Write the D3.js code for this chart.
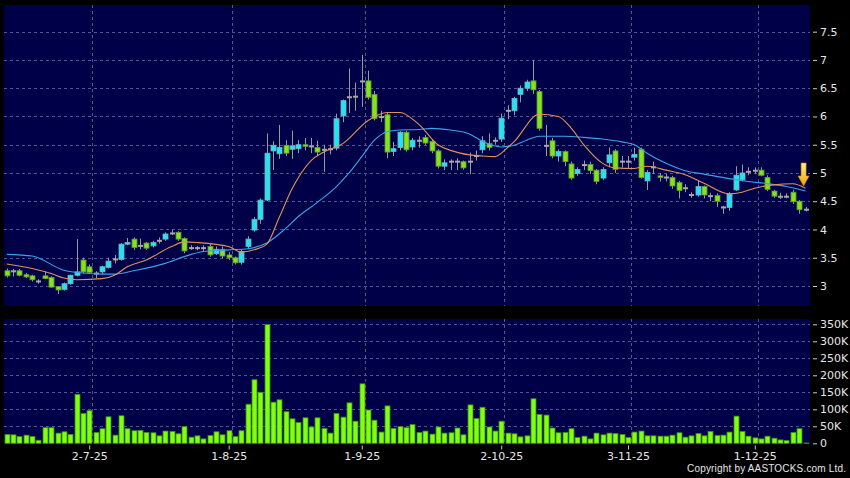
<!DOCTYPE html>
<html>
<head>
<meta charset="utf-8">
<script src="https://cdn.jsdelivr.net/npm/d3@7"></script>
<style>
  body { margin: 0; background: #000; }
  svg { display: block; font-family: "DejaVu Sans", sans-serif; }
</style>
</head>
<body>
<div id="chart"></div>
<script>
// daily candles, one entry per trading day (index 0 .. 126)
const open = [3.27,3.26,3.27,3.20,3.18,3.08,3.18,3.15,2.99,2.94,3.04,3.19,3.46,3.34,3.22,3.25,3.33,3.47,3.47,3.74,
  3.83,3.71,3.76,3.71,3.80,3.83,3.93,3.95,3.84,3.67,3.67,3.67,3.70,3.57,3.65,3.55,3.50,3.42,3.70,3.99,
  4.18,4.52,5.39,5.34,5.49,5.42,5.43,5.50,5.47,5.45,5.41,5.42,5.44,6.01,6.34,6.35,6.62,6.63,6.39,5.99,
  6.03,5.38,5.45,5.72,5.46,5.57,5.63,5.56,5.39,5.12,5.20,5.20,5.20,5.20,5.30,5.41,5.52,5.57,5.60,6.10,
  6.10,6.39,6.50,6.63,6.44,5.48,5.57,5.30,5.38,5.16,4.99,5.14,5.15,5.05,4.91,5.18,5.39,5.20,5.20,5.28,
  5.42,4.86,5.10,4.95,4.92,4.92,4.83,4.73,4.61,4.61,4.76,4.59,4.60,4.39,4.39,4.70,4.88,5.02,5.04,5.05,
  4.92,4.68,4.58,4.58,4.66,4.50,4.35];
const high = [3.31,3.30,3.30,3.23,3.20,3.12,3.25,3.17,3.00,3.06,3.20,3.83,3.50,3.38,3.26,3.36,3.50,3.55,3.76,3.85,
  3.86,3.84,3.78,3.80,3.86,3.95,4.00,3.97,3.86,3.72,3.71,3.72,3.74,3.70,3.70,3.60,3.52,3.64,3.88,4.22,
  4.55,5.70,5.56,5.85,5.58,5.75,5.58,5.62,5.62,5.57,5.50,5.50,6.05,6.30,6.85,6.60,7.09,6.81,6.45,6.10,
  6.06,5.55,5.74,5.75,5.62,5.65,5.67,5.60,5.42,5.24,5.24,5.26,5.22,5.36,5.40,5.65,5.70,5.63,6.05,6.20,
  6.35,6.55,6.65,7.00,6.47,5.85,5.62,5.42,5.40,5.20,5.10,5.22,5.20,5.07,5.10,5.45,5.42,5.30,5.30,5.45,
  5.45,5.05,5.20,5.00,4.98,4.95,4.86,4.80,4.66,4.86,4.78,4.65,4.64,4.42,4.66,5.12,5.15,5.10,5.10,5.10,
  4.96,4.70,4.65,4.64,4.70,4.52,4.40];
const low = [3.15,3.17,3.17,3.14,3.08,3.04,3.12,2.97,2.86,2.92,3.02,3.17,3.22,3.22,3.14,3.20,3.31,3.40,3.45,3.72,
  3.64,3.65,3.64,3.68,3.75,3.80,3.90,3.80,3.58,3.64,3.63,3.62,3.52,3.55,3.49,3.46,3.38,3.38,3.66,3.96,
  4.10,4.50,5.05,5.25,5.30,5.25,5.35,5.40,5.35,5.30,5.02,5.33,5.40,5.90,6.06,6.10,6.17,6.30,5.93,5.90,
  5.26,5.30,5.40,5.38,5.40,5.45,5.50,5.35,5.08,5.05,5.05,5.05,5.06,4.98,5.22,5.35,5.40,5.50,5.55,5.95,
  6.02,6.25,6.45,6.40,5.75,5.30,5.26,5.20,5.12,4.88,4.95,5.05,4.98,4.80,4.88,5.10,5.00,5.10,5.08,5.22,
  4.90,4.70,4.98,4.85,4.85,4.72,4.55,4.66,4.56,4.58,4.55,4.50,4.40,4.28,4.33,4.68,4.85,4.96,4.98,4.94,
  4.68,4.56,4.54,4.55,4.45,4.28,4.32];
const close = [3.18,3.26,3.19,3.16,3.11,3.08,3.13,2.98,2.93,3.04,3.19,3.25,3.25,3.24,3.22,3.34,3.44,3.47,3.74,3.77,
  3.68,3.71,3.67,3.77,3.80,3.92,3.93,3.83,3.62,3.67,3.67,3.67,3.55,3.65,3.53,3.50,3.41,3.61,3.83,4.18,
  4.52,5.35,5.49,5.45,5.35,5.48,5.50,5.47,5.47,5.37,5.41,5.42,5.96,6.28,6.34,6.35,6.62,6.34,5.96,5.99,
  5.37,5.43,5.72,5.41,5.58,5.57,5.53,5.39,5.12,5.18,5.20,5.20,5.09,5.20,5.30,5.57,5.45,5.57,5.97,6.10,
  6.32,6.50,6.61,6.47,5.79,5.48,5.30,5.38,5.20,4.91,5.06,5.14,5.04,4.85,5.06,5.32,5.06,5.20,5.20,5.33,
  4.92,5.01,5.10,4.92,4.92,4.77,4.69,4.73,4.61,4.76,4.61,4.59,4.50,4.39,4.63,4.96,5.00,5.02,5.04,4.96,
  4.71,4.59,4.58,4.58,4.49,4.35,4.35];
// volume in thousands of shares
const volume = [26,25,20,24,20,9,46,46,30,34,26,144,88,96,32,43,78,24,81,43,
  37,38,32,31,22,36,35,28,49,18,22,13,23,34,25,37,20,37,115,187,
  150,349,121,128,93,72,61,75,48,75,44,30,88,77,119,65,175,98,68,33,
  110,44,49,46,55,32,36,27,48,30,31,45,25,113,73,106,48,36,65,30,
  28,19,22,131,85,83,45,31,32,43,17,21,13,30,25,30,29,26,17,33,
  36,22,22,21,21,24,31,18,22,29,22,35,23,24,33,80,35,21,16,13,
  21,15,10,8,32,43,1];

// moving averages (bar index, value)
const maFastIdx = [0,4,7,9,11,15,17,19,22,26,28,30,35,37,39,41,43,45,48,50,53,57,60,62,65,68,70,73,75,77,79,80,84,87,89,91,94,96,99,101,104,107,110,114,116,118,121,124,126];
const maFast = [3.39,3.31,3.22,3.14,3.11,3.13,3.19,3.34,3.46,3.70,3.78,3.77,3.70,3.60,3.64,3.74,4.22,4.72,5.22,5.37,5.52,5.93,6.07,6.07,5.86,5.50,5.40,5.32,5.30,5.29,5.45,5.55,6.04,6.00,5.80,5.50,5.17,5.09,5.08,5.12,5.05,4.97,4.82,4.63,4.66,4.73,4.79,4.81,4.73];
const maSlowIdx = [0,4,9,12,15,17,20,25,28,31,35,38,41,44,46,49,52,54,56,58,60,62,65,67,70,73,75,78,80,82,84,88,91,94,97,99,101,104,107,110,114,117,120,123,126];
const maSlow = [3.56,3.53,3.28,3.23,3.21,3.21,3.27,3.40,3.52,3.61,3.64,3.66,3.76,4.02,4.23,4.48,4.76,5.00,5.29,5.58,5.73,5.76,5.77,5.79,5.76,5.69,5.56,5.46,5.49,5.58,5.65,5.65,5.63,5.60,5.55,5.50,5.35,5.17,5.04,4.98,4.90,4.85,4.81,4.76,4.68];

// axis ticks
const priceTicks = [3,3.5,4,4.5,5,5.5,6,6.5,7,7.5];
const volTicks = [0,50,100,150,200,250,300,350];
const dateTickIdx = [14,36,57,79,99,119];
const dateLabels = ["2-7-25","1-8-25","1-9-25","2-10-25","3-11-25","1-12-25"];

// set the dimensions of the panes
const width = 850, height = 478;
const plotLeft = 4, plotRight = 810;
const pricePane = {top: 5, bottom: 306},
    volPane = {top: 319, bottom: 443.5};

const svg = d3.select("#chart")
  .append("svg")
    .attr("width", width)
    .attr("height", height);

svg.append("rect").attr("width", width).attr("height", height).attr("fill", "#000");

[pricePane, volPane].forEach(p => {
  svg.append("rect")
    .attr("x", plotLeft).attr("y", p.top)
    .attr("width", plotRight - plotLeft).attr("height", p.bottom - p.top)
    .attr("fill", "#000048");
});

// scales
const x = d3.scaleLinear().domain([0, 126]).range([6.8, 805.5]);
const step = x(1) - x(0);
const y = d3.scaleLinear().domain([3, 7.5]).range([286, 31.7]);
const yVol = d3.scaleLinear().domain([0, 350]).range([443.3, 324.3]);

const gridColor = "#54548e";

// horizontal grid
svg.append("g").selectAll("line")
  .data(priceTicks)
  .join("line")
    .attr("x1", plotLeft).attr("x2", plotRight)
    .attr("y1", d => Math.round(y(d)) + 0.5).attr("y2", d => Math.round(y(d)) + 0.5)
    .attr("stroke", gridColor).attr("stroke-dasharray", "3,3");

svg.append("g").selectAll("line")
  .data(volTicks.filter(d => d > 0))
  .join("line")
    .attr("x1", plotLeft).attr("x2", plotRight)
    .attr("y1", d => Math.round(yVol(d)) + 0.5).attr("y2", d => Math.round(yVol(d)) + 0.5)
    .attr("stroke", gridColor).attr("stroke-dasharray", "3,3");

// vertical grid, between bars at month starts
[pricePane, volPane].forEach(p => {
  svg.append("g").selectAll("line")
    .data(dateTickIdx)
    .join("line")
      .attr("x1", d => Math.round(x(d) - step / 2) + 0.5)
      .attr("x2", d => Math.round(x(d) - step / 2) + 0.5)
      .attr("y1", p.top).attr("y2", p.bottom)
      .attr("stroke", gridColor).attr("stroke-dasharray", "3,3");
});

// candles
const idx = d3.range(open.length);
const candles = svg.append("g");

candles.selectAll("line")
  .data(idx)
  .join("line")
    .attr("x1", i => Math.round(x(i)) + 0.5)
    .attr("x2", i => Math.round(x(i)) + 0.5)
    .attr("y1", i => y(high[i]))
    .attr("y2", i => y(low[i]))
    .attr("stroke", "#9a9a9a");

candles.selectAll("rect")
  .data(idx)
  .join("rect")
    .attr("x", i => Math.round(x(i)) - 2)
    .attr("width", 5)
    .attr("y", i => open[i] === close[i] ? y(close[i]) - 1 : y(Math.max(open[i], close[i])))
    .attr("height", i => open[i] === close[i] ? 2 : Math.max(1.5, Math.abs(y(open[i]) - y(close[i]))))
    .attr("fill", i => close[i] > open[i] ? "#26e2f0" : close[i] < open[i] ? "#84e21e" : "#a8a8a8")
    .attr("stroke", i => close[i] > open[i] ? "#78b4c0" : close[i] < open[i] ? "#5c9a30" : "none")
    .attr("stroke-width", 0.8);

// moving average lines
const line = d3.line().curve(d3.curveMonotoneX);

svg.append("path")
  .attr("d", line(maSlowIdx.map((d, k) => [x(d), y(maSlow[k])])))
  .attr("fill", "none")
  .attr("stroke", "#3aa2ea")
  .attr("stroke-width", 1.1);

svg.append("path")
  .attr("d", line(maFastIdx.map((d, k) => [x(d), y(maFast[k])])))
  .attr("fill", "none")
  .attr("stroke", "#e0925a")
  .attr("stroke-width", 1.1);

// volume bars
svg.append("g").selectAll("rect")
  .data(idx)
  .join("rect")
    .attr("x", i => Math.round(x(i)) - 2)
    .attr("width", 5)
    .attr("y", i => yVol(volume[i]))
    .attr("height", i => yVol(0) - yVol(volume[i]))
    .attr("fill", "#80ff10")
    .attr("stroke", "#3c8a14")
    .attr("stroke-width", 0.8);

// down arrow marker on the latest bar
const arrowAt = {index: 125.7, price: 4.77};
const defs = svg.append("defs");
const grad = defs.append("linearGradient").attr("id", "arrowGrad")
  .attr("x1", 0).attr("y1", 0).attr("x2", 0).attr("y2", 1);
grad.append("stop").attr("offset", "0%").attr("stop-color", "#fff38a");
grad.append("stop").attr("offset", "100%").attr("stop-color", "#f2a200");

const ax = x(arrowAt.index), ay = y(arrowAt.price);
svg.append("path")
  .attr("d", `M${ax - 2.5},${ay - 23} L${ax + 2.5},${ay - 23} L${ax + 2.5},${ay - 10} L${ax + 5.5},${ay - 10} L${ax},${ay} L${ax - 5.5},${ay - 10} L${ax - 2.5},${ay - 10} Z`)
  .attr("fill", "url(#arrowGrad)")
  .attr("stroke", "#c98a00")
  .attr("stroke-width", 0.6);

// right axes
function styleAxis(g) {
  g.select(".domain").remove();
  g.selectAll("line").attr("stroke", "#c8c8c8");
  g.selectAll("text").attr("fill", "#e6e6e6").attr("font-size", "11px")
    .attr("font-family", "DejaVu Sans, sans-serif");
}

svg.append("g")
  .attr("transform", `translate(${plotRight + 3},0)`)
  .call(d3.axisRight(y).tickValues(priceTicks).tickSize(4).tickPadding(3).tickFormat(d => String(d)))
  .call(styleAxis);

svg.append("g")
  .attr("transform", `translate(${plotRight + 3},0)`)
  .call(d3.axisRight(yVol).tickValues(volTicks).tickSize(4).tickPadding(3).tickFormat(d => d === 0 ? "0" : d + "K"))
  .call(styleAxis);

// date axis, ticks sit on the bar before each month boundary
svg.append("g")
  .attr("transform", `translate(0,${volPane.bottom + 2})`)
  .call(d3.axisBottom(x).tickValues(dateTickIdx.map(d => d - 1)).tickSize(4).tickPadding(3)
    .tickFormat((d, k) => dateLabels[k]))
  .call(styleAxis);

svg.append("text")
  .attr("x", 846).attr("y", 472)
  .attr("text-anchor", "end")
  .attr("fill", "#e6e6e6")
  .attr("font-size", "10px")
  .attr("font-family", "Liberation Sans, sans-serif")
  .attr("textLength", 159)
  .attr("lengthAdjust", "spacing")
  .text("Copyright by AASTOCKS.com Ltd.");
</script>
</body>
</html>
